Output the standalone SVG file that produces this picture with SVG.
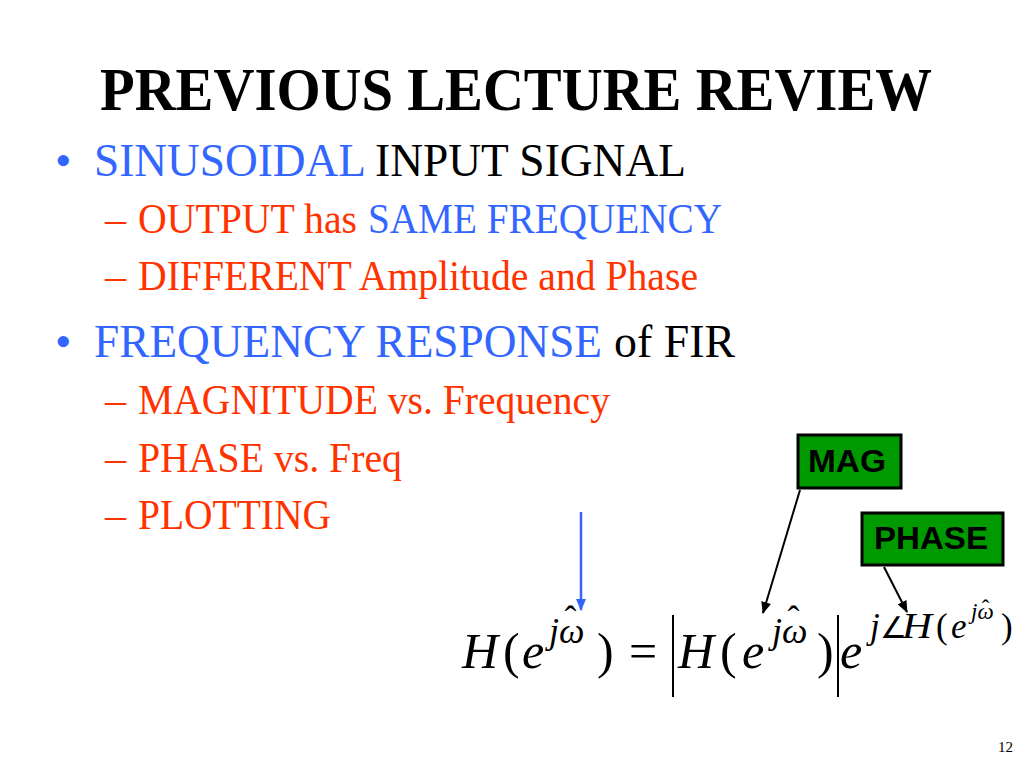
<svg xmlns="http://www.w3.org/2000/svg" width="1024" height="768" viewBox="0 0 1024 768">
<style>
.serif{font-family:"Liberation Serif","Times New Roman",serif}
.title{font-size:62px;font-weight:bold;fill:#000}
.l1{font-size:47px}
.l2{font-size:42px}
.blue{fill:#3366FF}
.red{fill:#FF3300}
.blk{fill:#000}
.box{fill:#009900;stroke:#000;stroke-width:3}
.boxt{font-family:"Liberation Sans",Arial,sans-serif;font-weight:bold;font-size:31px;fill:#000}
.it{font-style:italic}
.m{font-size:50px;fill:#000}
.s{font-size:36px;fill:#000}
.x{font-size:35px;fill:#000}
.ss{font-size:23px;fill:#000}
.up{font-style:normal}
.ang{font-family:"DejaVu Sans",sans-serif;font-weight:200;font-style:normal;font-size:30px}
.conn{stroke:#000;stroke-width:2;fill:none}
</style>
<defs>
<marker id="ahk" markerWidth="12" markerHeight="10" refX="11" refY="5" orient="auto" markerUnits="userSpaceOnUse">
<path d="M0,0 L12,5 L0,10 Z" fill="#000"/>
</marker>
<marker id="ahb" markerWidth="12" markerHeight="10" refX="11" refY="5" orient="auto" markerUnits="userSpaceOnUse">
<path d="M0,0 L12,5 L0,10 Z" fill="#3366FF"/>
</marker>
</defs>
<rect width="1024" height="768" fill="#fff"/>

<g id="title">
<text class="serif title" x="100" y="110" textLength="832" lengthAdjust="spacingAndGlyphs">PREVIOUS LECTURE REVIEW</text>
</g>

<g id="bullets" class="serif">
<text class="l1 blue" x="55" y="176">•</text>
<text class="l1 blue" x="94" y="176" textLength="272" lengthAdjust="spacingAndGlyphs">SINUSOIDAL</text>
<text class="l1 blk" x="375" y="176" textLength="311" lengthAdjust="spacingAndGlyphs">INPUT SIGNAL</text>

<text class="l2 red" x="105" y="233">–</text>
<text class="l2 red" x="138" y="233" textLength="219" lengthAdjust="spacingAndGlyphs">OUTPUT has</text>
<text class="l2 blue" x="368" y="233" textLength="354" lengthAdjust="spacingAndGlyphs">SAME FREQUENCY</text>

<text class="l2 red" x="105" y="290">–</text>
<text class="l2 red" x="138" y="290" textLength="560" lengthAdjust="spacingAndGlyphs">DIFFERENT Amplitude and Phase</text>

<text class="l1 blue" x="55" y="357">•</text>
<text class="l1 blue" x="94" y="357" textLength="508" lengthAdjust="spacingAndGlyphs">FREQUENCY RESPONSE</text>
<text class="l1 blk" x="614" y="357" textLength="121" lengthAdjust="spacingAndGlyphs">of FIR</text>

<text class="l2 red" x="105" y="414">–</text>
<text class="l2 red" x="138" y="414" textLength="472" lengthAdjust="spacingAndGlyphs">MAGNITUDE vs. Frequency</text>

<text class="l2 red" x="105" y="472">–</text>
<text class="l2 red" x="138" y="472" textLength="264" lengthAdjust="spacingAndGlyphs">PHASE vs. Freq</text>

<text class="l2 red" x="105" y="529">–</text>
<text class="l2 red" x="138" y="529" textLength="193" lengthAdjust="spacingAndGlyphs">PLOTTING</text>
</g>

<g id="mag">
<rect class="box" x="798" y="435" width="103" height="53"/>
<text class="boxt" x="808" y="472" textLength="78" lengthAdjust="spacingAndGlyphs">MAG</text>
</g>

<g id="phase">
<rect class="box" x="862" y="513" width="141" height="52"/>
<text class="boxt" x="874" y="549" textLength="114" lengthAdjust="spacingAndGlyphs">PHASE</text>
</g>

<g id="formula" class="serif">
<text class="m it" x="462" y="668">H</text>
<text class="m" x="503" y="668">(</text>
<text class="m it" x="522" y="668">e</text>
<text class="s it" x="549" y="643">jω<tspan class="up" dx="-20" dy="-12">ˆ</tspan></text>
<text class="m" x="597" y="668">)</text>
<text class="m" x="629" y="668">=</text>
<line x1="673" y1="615" x2="673" y2="697" stroke="#000" stroke-width="2"/>
<text class="m it" x="678" y="668">H</text>
<text class="m" x="720" y="668">(</text>
<text class="m it" x="742" y="668">e</text>
<text class="s it" x="772" y="643">jω<tspan class="up" dx="-20" dy="-12">ˆ</tspan></text>
<text class="m" x="817" y="668">)</text>
<line x1="838" y1="615" x2="838" y2="697" stroke="#000" stroke-width="2"/>
<text class="m it" x="840" y="668">e</text>
<text class="x it" x="870" y="638">j<tspan class="ang">∠</tspan></text>
<text class="x it" x="902" y="638" textLength="30" lengthAdjust="spacingAndGlyphs">H</text>
<text class="x" x="936" y="638">(</text>
<text class="x it" x="951" y="638">e</text>
<text class="ss it" x="971" y="619">jω<tspan class="up" dx="-12" dy="-3">ˆ</tspan></text>
<text class="x" x="1001" y="638">)</text>
</g>

<g id="connectors">
<line x1="581" y1="512" x2="581" y2="610" stroke="#3366FF" stroke-width="2.5" marker-end="url(#ahb)"/>
<line class="conn" x1="800" y1="490" x2="763" y2="613" marker-end="url(#ahk)"/>
<line class="conn" x1="884" y1="567" x2="907" y2="612" marker-end="url(#ahk)"/>
</g>

<g id="page">
<text class="serif" x="998" y="752" font-size="15" fill="#000">12</text>
</g>
</svg>
